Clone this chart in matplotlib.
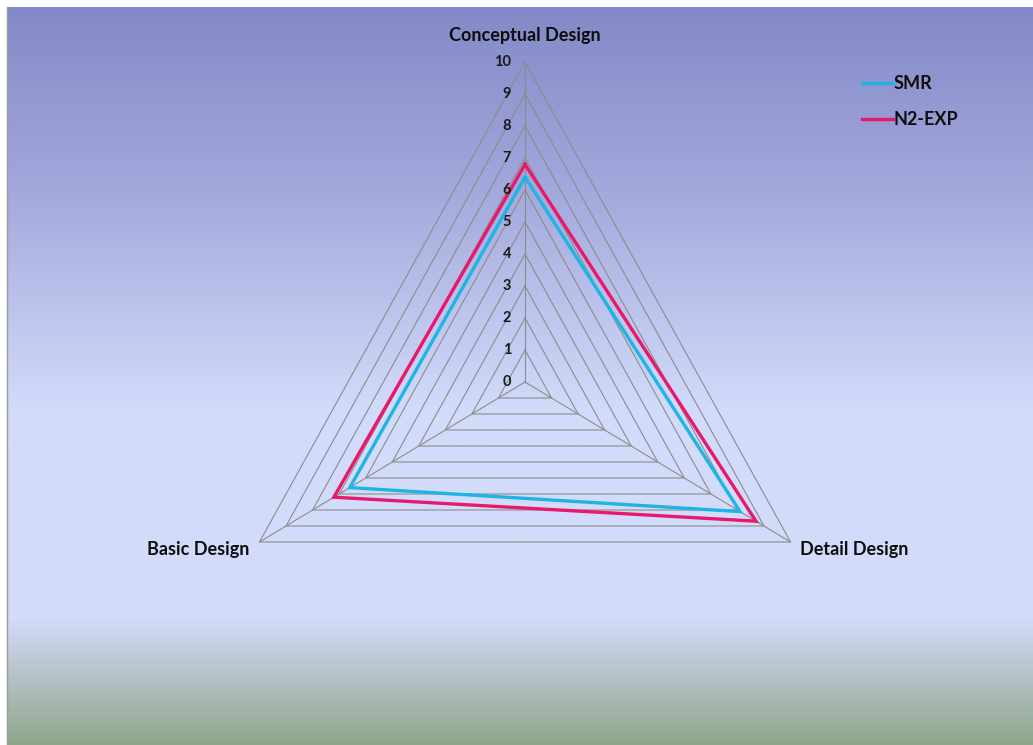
import numpy as np
import matplotlib.pyplot as plt
from matplotlib.colors import to_rgb

# data
categories = ["Conceptual Design", "Detail Design", "Basic Design"]
smr = [6.4, 8.1, 6.6]
n2_exp = [6.8, 8.7, 7.2]
levels = list(range(0, 11))
angles = np.deg2rad([90, -30, 210])

W, H = 1033, 745
plt.rcParams["font.family"] = ["Lato", "DejaVu Sans"]

fig = plt.figure(figsize=(W / 100, H / 100), dpi=100)

# background gradient (top purple -> light blue -> greenish grey)
bg = fig.add_axes([7 / W, 0, 1 - 7 / W, (H - 7) / H])
stop_pos = [0.0, 0.25, 0.55, 0.83, 0.9, 1.0]
stop_col = ["#8389c6", "#a3a9dc", "#d2dcfa", "#d2dcfa", "#b8c5cc", "#8fa68b"]
yy = np.linspace(0, 1, 400)
rgb = np.array([to_rgb(c) for c in stop_col])
grad = np.stack([np.interp(yy, stop_pos, rgb[:, i]) for i in range(3)], axis=-1)
bg.imshow(grad[:, None, :], aspect="auto", extent=[0, 1, 0, 1])
bg.set_xlim(0, 1)
bg.set_ylim(0, 1)
bg.axis("off")
fig.add_artist(plt.Line2D([7 / W, 7 / W], [0, (H - 7) / H], color="#9a9a9a", lw=1))

# main radar axes (cartesian so the triangle can be slightly taller than wide)
ax = fig.add_axes([0, 0, 1, 1])
ax.patch.set_visible(False)
sx, sy = 30.66, 32.0  # pixels per unit
ax.set_xlim(-525 / sx, (W - 525) / sx)
ax.set_ylim(-(H - 382) / sy, 382 / sy)
ax.axis("off")

cx, cy = np.cos(angles), np.sin(angles)
grid_col = "#8c8c8c"
for v in levels[1:]:
    ax.plot(np.append(v * cx, v * cx[0]), np.append(v * cy, v * cy[0]),
            color=grid_col, lw=0.8, zorder=1)
for a in range(3):
    ax.plot([0, levels[-1] * cx[a]], [0, levels[-1] * cy[a]],
            color=grid_col, lw=0.8, zorder=1)

smr_v = np.array(smr)
n2_v = np.array(n2_exp)
h1, = ax.plot(np.append(smr_v * cx, smr_v[0] * cx[0]),
              np.append(smr_v * cy, smr_v[0] * cy[0]),
              color="#1eb4e4", lw=2.4, label="SMR", zorder=3,
              solid_joinstyle="miter")
h2, = ax.plot(np.append(n2_v * cx, n2_v[0] * cx[0]),
              np.append(n2_v * cy, n2_v[0] * cy[0]),
              color="#e8186a", lw=2.4, label="N2-EXP", zorder=3,
              solid_joinstyle="miter")

# value labels
for v in levels:
    ax.text(-0.45, v, str(v), ha="right", va="center", fontsize=10.5,
            fontweight="bold", color="#1a1a1a")

# category labels
ax.text(0, (382 - 35) / sy, categories[0], ha="center", va="center",
        fontsize=13, fontweight="bold", color="#0d0d0d")
ax.text((800 - 525) / sx, (382 - 550) / sy, categories[1], ha="left",
        va="center", fontsize=13, fontweight="bold", color="#0d0d0d")
ax.text((249 - 525) / sx, (382 - 550) / sy, categories[2], ha="right",
        va="center", fontsize=13, fontweight="bold", color="#0d0d0d")

leg = ax.legend(handles=[h1, h2], loc="upper left",
                bbox_to_anchor=(862 / W, 1 - 75 / H),
                bbox_transform=fig.transFigure, frameon=False,
                borderpad=0, borderaxespad=0, handlelength=1.7,
                handletextpad=0.05, labelspacing=1.05,
                prop={"size": 13, "weight": "bold"})
for t in leg.get_texts():
    t.set_color("#0d0d0d")

fig.savefig("out.png", dpi=100)
